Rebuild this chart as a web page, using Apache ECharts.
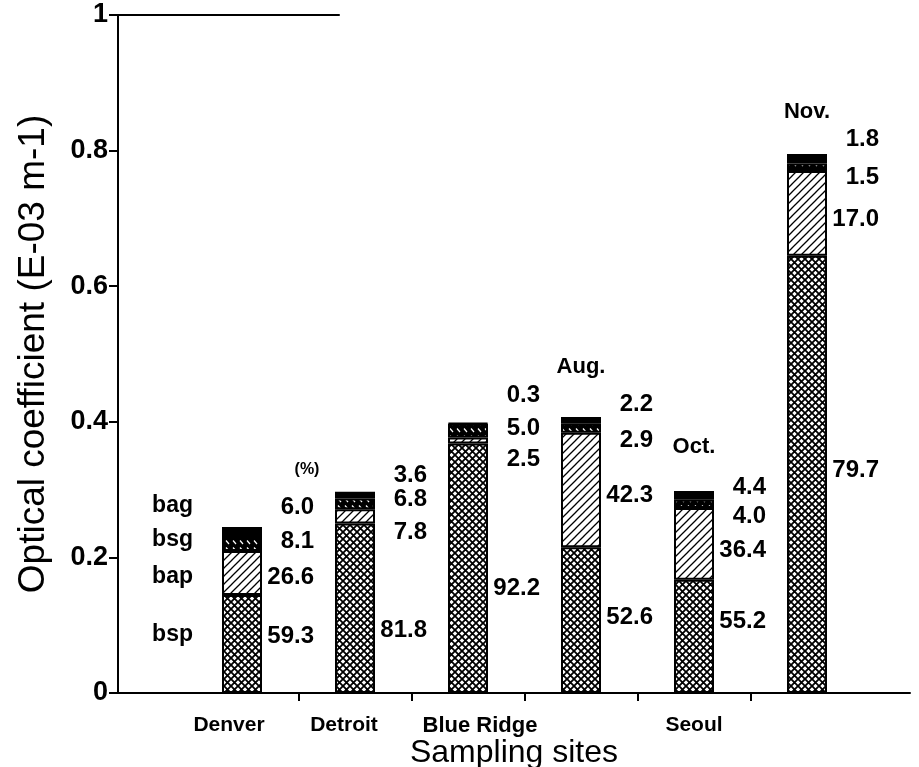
<!DOCTYPE html>
<html><head><meta charset="utf-8">
<script src="https://cdn.jsdelivr.net/npm/echarts@6/dist/echarts.min.js"></script>
<style>html,body{margin:0;padding:0;background:#fff}#c{width:919px;height:767px}</style>
</head><body><div id="c"></div>
<script>
// ---- data ----
const sites = ['Denver', 'Detroit', 'Blue Ridge', 'Seoul Aug.', 'Seoul Oct.', 'Seoul Nov.', ''];
const siteLabels = ['Denver', 'Detroit', 'Blue Ridge', '', 'Seoul', '', ''];
const components = ['bsp', 'bap', 'bsg', 'bag'];
const bsp = [0.1445, 0.250, 0.368, 0.215, 0.167, 0.645];
const bap = [0.065, 0.021, 0.009, 0.169, 0.106, 0.125];
const bsg = [0.0206, 0.016, 0.020, 0.013, 0.012, 0.011];
const bag = [0.0147, 0.010, 0.0012, 0.010, 0.013, 0.014];
const pctBsp = ['59.3', '81.8', '92.2', '52.6', '55.2', '79.7'];
const pctBap = ['26.6', '7.8', '2.5', '42.3', '36.4', '17.0'];
const pctBsg = ['8.1', '6.8', '5.0', '2.9', '4.0', '1.5'];
const pctBag = ['6.0', '3.6', '0.3', '2.2', '4.4', '1.8'];
const months = ['', '', '', 'Aug.', 'Oct.', 'Nov.'];
const yTickLabels = ['0', '0.2', '0.4', '0.6', '0.8', '1'];
// label anchor heights (axis units)
const labelYBsp = [0.083, 0.093, 0.155, 0.111, 0.105, 0.329];
const labelYBap = [0.171, 0.2375, 0.344, 0.292, 0.211, 0.698];
const labelYBsg = [0.223, 0.285, 0.391, 0.373, 0.260, 0.761];
const labelYBag = [0.274, 0.3215, 0.4395, 0.425, 0.304, 0.816];
const labelYMonths = [null, null, null, 0.481, 0.363, 0.857];
const labelYKey = [0.0855, 0.171, 0.226, 0.277]; // bsp, bap, bsg, bag
const labelYPercent = 0.329;

// ---- patterns ----
function pat(w, h, draw) {
  const c = document.createElement('canvas'); c.width = w; c.height = h;
  const g = c.getContext('2d'); draw(g, w, h);
  return { image: c, repeat: 'repeat' };
}
const crossPat = pat(7, 7, (g, w, h) => {
  g.fillStyle = '#fff'; g.fillRect(0, 0, w, h);
  g.strokeStyle = '#000'; g.lineWidth = 1.8;
  g.beginPath();
  g.moveTo(-1, -1); g.lineTo(w + 1, h + 1);
  g.moveTo(w + 1, -1); g.lineTo(-1, h + 1);
  g.stroke();
});
const slashPat = pat(8, 8, (g, w, h) => {
  g.fillStyle = '#fff'; g.fillRect(0, 0, w, h);
  g.strokeStyle = '#000'; g.lineWidth = 1.3;
  g.beginPath();
  g.moveTo(-1, h + 1); g.lineTo(w + 1, -1);
  g.moveTo(-5, 5); g.lineTo(5, -5);
  g.moveTo(3, 13); g.lineTo(13, 3);
  g.stroke();
});
const backPat = pat(7, 7, (g, w, h) => {
  g.fillStyle = '#000'; g.fillRect(0, 0, w, h);
  g.strokeStyle = '#fff'; g.lineWidth = 1.2;
  g.beginPath(); g.moveTo(2, 1.5); g.lineTo(5, 5); g.stroke();
});

const FONT = "'Liberation Sans', Arial, Helvetica, sans-serif";
const values = [bsp, bap, bsg, bag];
const fills = [crossPat, slashPat, backPat, '#000'];
const pcts = [pctBsp, pctBap, pctBsg, pctBag];
const labelYs = [labelYBsp, labelYBap, labelYBsg, labelYBag];
const hidden = { color: 'rgba(0,0,0,0)', opacity: 1 };

const series = [];
components.forEach((name, k) => {
  series.push({
    name, type: 'bar', stack: 'total', xAxisIndex: 1, yAxisIndex: 1,
    barWidth: 40, data: values[k],
    itemStyle: { color: fills[k], borderColor: '#000', borderWidth: 2 },
    emphasis: { disabled: true }, silent: true
  });
});
components.forEach((name, k) => {
  series.push({
    type: 'scatter', xAxisIndex: 1, yAxisIndex: 1, symbolSize: 1,
    itemStyle: hidden, silent: true,
    data: labelYs[k].map((y, i) => [sites[i], y]),
    label: {
      show: true, position: 'inside', align: 'right', verticalAlign: 'middle',
      offset: [72, 0], fontSize: 24, fontWeight: 'bold', color: '#000', opacity: 1, fontFamily: FONT,
      textBorderWidth: 0,
      formatter: p => pcts[k][p.dataIndex]
    }
  });
});
// month labels
series.push({
  type: 'scatter', xAxisIndex: 1, yAxisIndex: 1, symbolSize: 1,
  itemStyle: hidden, silent: true,
  data: labelYMonths.map((y, i) => [sites[i], y]).filter(d => d[1] !== null),
  label: {
    show: true, position: 'inside', fontSize: 22, fontWeight: 'bold', color: '#000', opacity: 1, fontFamily: FONT,
    textBorderWidth: 0,
    formatter: p => months[sites.indexOf(p.value[0])]
  }
});
// component key on the left
series.push({
  type: 'scatter', xAxisIndex: 1, yAxisIndex: 1, symbolSize: 1,
  itemStyle: hidden, silent: true,
  data: labelYKey.map(y => [sites[0], y]),
  label: {
    show: true, position: 'inside', align: 'right', offset: [-49, 0], fontSize: 23, fontWeight: 'bold',
    color: '#000', opacity: 1, fontFamily: FONT, textBorderWidth: 0, formatter: p => components[p.dataIndex]
  }
});
series.push({
  type: 'scatter', xAxisIndex: 1, yAxisIndex: 1, symbolSize: 1,
  itemStyle: hidden, silent: true,
  data: [[sites[0], labelYPercent]],
  label: {
    show: true, position: 'inside', offset: [65, 0], fontSize: 16, fontWeight: 'bold',
    color: '#000', opacity: 1, fontFamily: FONT, textBorderWidth: 0, formatter: '(%)'
  }
});
// partial top frame line
series.push({
  type: 'line', xAxisIndex: 0, yAxisIndex: 0, data: [], silent: true,
  markLine: {
    symbol: 'none', silent: true, label: { show: false },
    lineStyle: { color: '#000', width: 2, type: 'solid' },
    data: [[{ coord: [0, 1] }, { coord: [0.28, 1] }]]
  }
});

const labelStyleKey = ['l', 'd', 'b', 'n', 'n', 'n', 'n'];
const richBase = { fontSize: 21, fontWeight: 'bold', color: '#000', fontFamily: FONT };

const chart = echarts.init(document.getElementById('c'), null, { renderer: 'canvas' });
chart.setOption({
  animation: false,
  backgroundColor: '#fff',
  grid: [
    { left: 118, right: 9, top: 15, bottom: 74, outerBoundsMode: 'none', containLabel: false },
    { left: 185.5, width: 791, top: 15, bottom: 74, outerBoundsMode: 'none', containLabel: false }
  ],
  xAxis: [
    {
      type: 'value', gridIndex: 0, min: 0, max: 1,
      axisLine: { show: true, lineStyle: { color: '#000', width: 2 } },
      axisTick: { show: false }, axisLabel: { show: false }, splitLine: { show: false },
      name: 'Sampling sites', nameLocation: 'middle', nameGap: 44,
      nameTextStyle: { fontSize: 32, color: '#000', fontFamily: FONT }
    },
    {
      type: 'category', gridIndex: 1, data: sites,
      axisLine: { show: false },
      axisTick: { show: true, interval: (i) => i >= 1 && i <= 5, length: 8, lineStyle: { color: '#000', width: 2 } },
      axisLabel: {
        interval: 0, margin: 22, fontSize: 21, fontWeight: 'bold', color: '#000', fontFamily: FONT,
        formatter: (v, i) => siteLabels[i] ? '{' + labelStyleKey[i] + '|' + siteLabels[i] + '}' : '',
        rich: {
          l: Object.assign({ padding: [0, 26, 0, 0] }, richBase),
          d: Object.assign({ padding: [0, 22, 0, 0] }, richBase),
          b: Object.assign({ padding: [0, 0, 0, 24] }, richBase, { fontSize: 22 }),
          n: richBase
        }
      },
      splitLine: { show: false }
    }
  ],
  yAxis: [
    {
      type: 'value', gridIndex: 0, min: 0, max: 1, interval: 0.2,
      axisLine: { show: true, lineStyle: { color: '#000', width: 2 } },
      axisTick: { show: true, length: 9, lineStyle: { color: '#000', width: 2 } },
      axisLabel: {
        fontSize: 27, fontWeight: 'bold', color: '#000', fontFamily: FONT, margin: 10,
        formatter: (v) => yTickLabels[Math.round(v / 0.2)]
      },
      splitLine: { show: false },
      name: 'Optical coefficient (E-03 m-1)', nameLocation: 'middle', nameGap: 66,
      nameTextStyle: { fontSize: 37, color: '#000', fontFamily: FONT }
    },
    {
      type: 'value', gridIndex: 1, min: 0, max: 1, show: false
    }
  ],
  series
});
</script></body></html>
